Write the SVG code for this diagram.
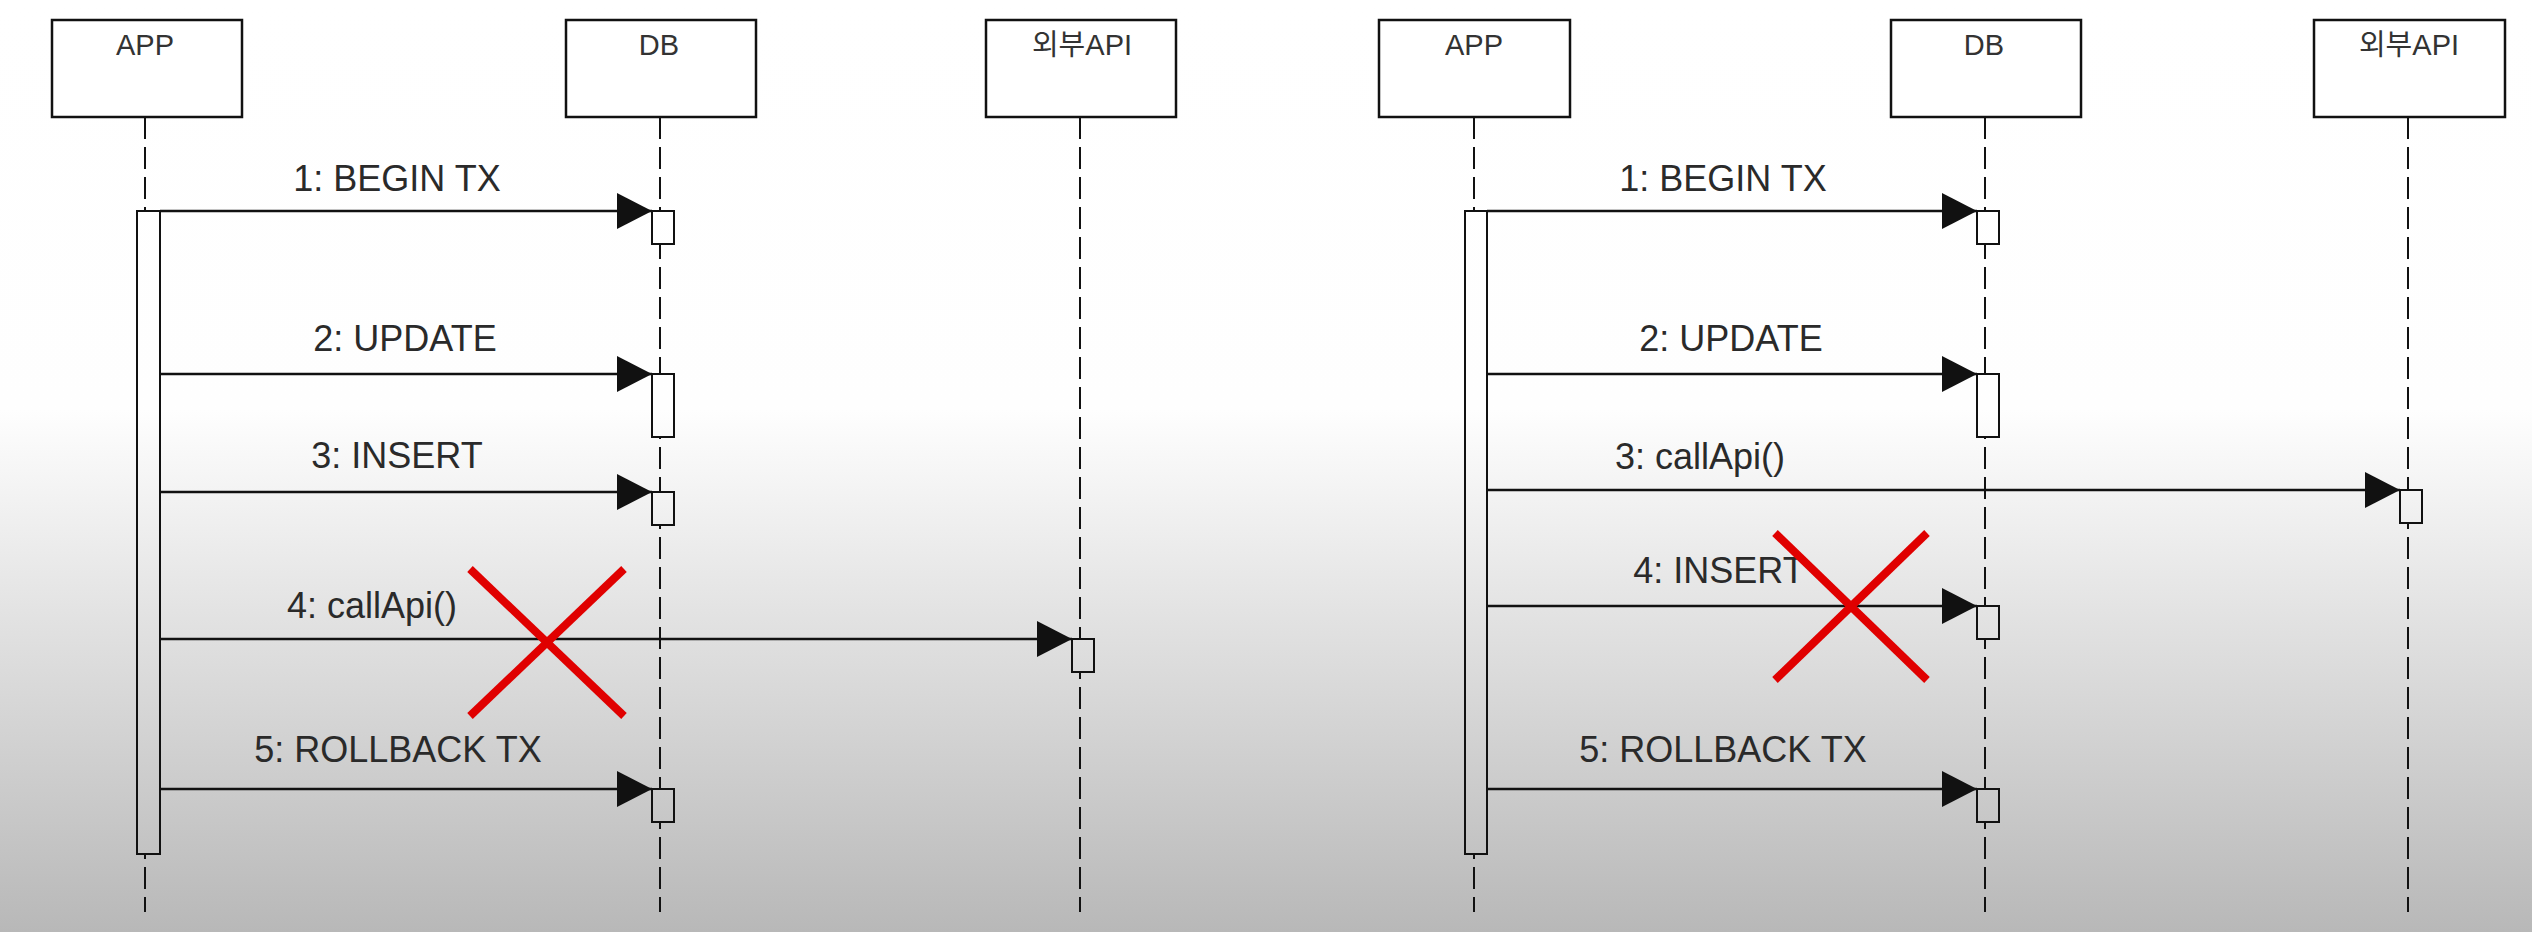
<svg xmlns="http://www.w3.org/2000/svg" width="2532" height="932" viewBox="0 0 2532 932">
<style>
.box{fill:#ffffff;stroke:#111;stroke-width:2.5}
.life{stroke:#111;stroke-width:2;stroke-dasharray:22 8;fill:none}
.act{fill:url(#bg);stroke:#111;stroke-width:2}
.msg{stroke:#111;stroke-width:2.5;fill:none;marker-end:url(#ah)}
.lbl{font-family:"Liberation Sans","Noto Sans CJK KR",sans-serif;font-size:36px;fill:#2a2a2a;text-anchor:middle}
.nlbl{font-family:"Liberation Sans","Noto Sans CJK KR",sans-serif;font-size:29px;fill:#333;text-anchor:middle}
.x{stroke:#e00000;stroke-width:8;fill:none}
</style>
<defs>
<linearGradient id="bg" gradientUnits="userSpaceOnUse" x1="0" y1="0" x2="0" y2="932">
<stop offset="0" stop-color="#ffffff"/>
<stop offset="0.44" stop-color="#fefefe"/>
<stop offset="1" stop-color="#b8b8b8"/>
</linearGradient>
<marker id="ah" markerUnits="userSpaceOnUse" markerWidth="36" markerHeight="38" refX="35" refY="18" orient="auto">
<path d="M0,0 L35,18 L0,36 z" fill="#111"/>
</marker>
</defs>
<rect x="0" y="0" width="2532" height="932" fill="url(#bg)"/>

<g id="left-app">
<rect class="box" x="52" y="20" width="190" height="97"/>
<text class="nlbl" x="145" y="55">APP</text>
<line class="life" x1="145" y1="117" x2="145" y2="912"/>
<rect class="act" x="137" y="211" width="23" height="643"/>
</g>
<g id="left-db">
<rect class="box" x="566" y="20" width="190" height="97"/>
<text class="nlbl" x="659" y="55">DB</text>
<line class="life" x1="660" y1="117" x2="660" y2="912"/>
<rect class="act" x="652" y="211" width="22" height="33"/>
<rect class="act" x="652" y="374" width="22" height="63"/>
<rect class="act" x="652" y="492" width="22" height="33"/>
<rect class="act" x="652" y="789" width="22" height="33"/>
</g>
<g id="left-api">
<rect class="box" x="986" y="20" width="190" height="97"/>
<text class="nlbl" x="1082" y="55">외부API</text>
<line class="life" x1="1080" y1="117" x2="1080" y2="912"/>
<rect class="act" x="1072" y="639" width="22" height="33"/>
</g>

<g id="right-app">
<rect class="box" x="1379" y="20" width="191" height="97"/>
<text class="nlbl" x="1474" y="55">APP</text>
<line class="life" x1="1474" y1="117" x2="1474" y2="912"/>
<rect class="act" x="1465" y="211" width="22" height="643"/>
</g>
<g id="right-db">
<rect class="box" x="1891" y="20" width="190" height="97"/>
<text class="nlbl" x="1984" y="55">DB</text>
<line class="life" x1="1985" y1="117" x2="1985" y2="912"/>
<rect class="act" x="1977" y="211" width="22" height="33"/>
<rect class="act" x="1977" y="374" width="22" height="63"/>
<rect class="act" x="1977" y="606" width="22" height="33"/>
<rect class="act" x="1977" y="789" width="22" height="33"/>
</g>
<g id="right-api">
<rect class="box" x="2314" y="20" width="191" height="97"/>
<text class="nlbl" x="2409" y="55">외부API</text>
<line class="life" x1="2408" y1="117" x2="2408" y2="912"/>
<rect class="act" x="2400" y="490" width="22" height="33"/>
</g>

<g id="connectors">
<line class="msg" x1="160" y1="211" x2="652" y2="211"/>
<line class="msg" x1="160" y1="374" x2="652" y2="374"/>
<line class="msg" x1="160" y1="492" x2="652" y2="492"/>
<line class="msg" x1="160" y1="639" x2="1072" y2="639"/>
<line class="msg" x1="160" y1="789" x2="652" y2="789"/>
<line class="msg" x1="1487" y1="211" x2="1977" y2="211"/>
<line class="msg" x1="1487" y1="374" x2="1977" y2="374"/>
<line class="msg" x1="1487" y1="490" x2="2400" y2="490"/>
<line class="msg" x1="1487" y1="606" x2="1977" y2="606"/>
<line class="msg" x1="1487" y1="789" x2="1977" y2="789"/>
</g>

<g id="labels">
<text class="lbl" x="397" y="191">1: BEGIN TX</text>
<text class="lbl" x="405" y="351">2: UPDATE</text>
<text class="lbl" x="397" y="468">3: INSERT</text>
<text class="lbl" x="372" y="618">4: callApi()</text>
<text class="lbl" x="398" y="762">5: ROLLBACK TX</text>
<text class="lbl" x="1723" y="191">1: BEGIN TX</text>
<text class="lbl" x="1731" y="351">2: UPDATE</text>
<text class="lbl" x="1700" y="469">3: callApi()</text>
<text class="lbl" x="1719" y="583">4: INSERT</text>
<text class="lbl" x="1723" y="762">5: ROLLBACK TX</text>
</g>

<g id="cross-left">
<line class="x" x1="470" y1="569" x2="624" y2="716"/>
<line class="x" x1="624" y1="569" x2="470" y2="716"/>
</g>
<g id="cross-right">
<line class="x" x1="1775" y1="533" x2="1927" y2="680"/>
<line class="x" x1="1927" y1="533" x2="1775" y2="680"/>
</g>
</svg>
